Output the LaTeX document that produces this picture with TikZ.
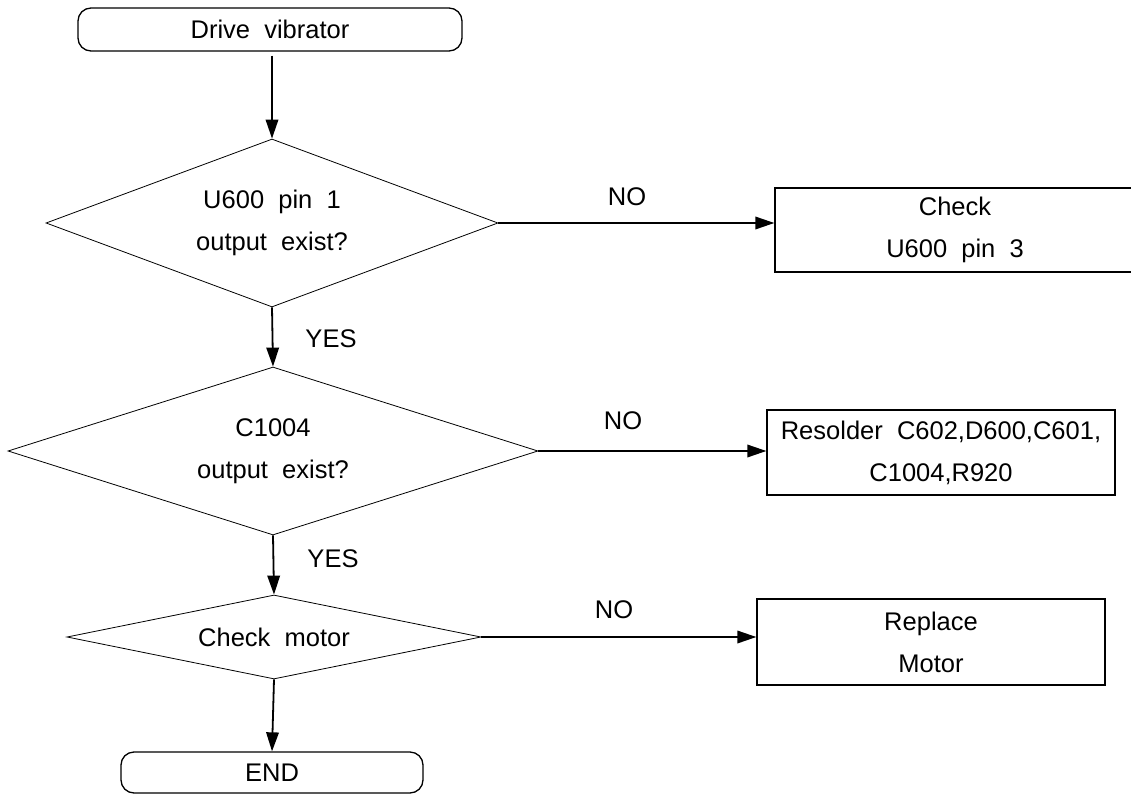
\documentclass[tikz,border=0pt]{standalone}
\usepackage{fontspec}
\setmainfont{Liberation Sans}
\usetikzlibrary{shapes.geometric,arrows.meta}
\begin{document}
\begin{tikzpicture}[x=1pt,y=-1pt,
  every node/.style={font=\fontsize{25.5}{42}\selectfont, inner sep=0pt, text=black},
  term/.style={draw, line width=1.3pt, rounded corners=13pt},
  dec/.style={draw, diamond, line width=0.8pt, align=center},
  proc/.style={draw, rectangle, line width=1.3pt, align=center},
  flow/.style={line width=1.8pt, -{Triangle[length=19pt,width=12.5pt]}}]
\useasboundingbox (0,0) rectangle (1131,794);
% nodes
\node[term, minimum width=384pt, minimum height=43pt] (start) at (270,29.5) {Drive~~vibrator};
\node[dec, minimum width=452pt, minimum height=168pt, shape aspect=2.69] (d1) at (272,223) {U600~~pin~~1\\output~~exist?};
\node[proc, minimum width=360pt, minimum height=84pt] (b1) at (955,230) {Check\\U600~~pin~~3};
\node[dec, minimum width=530pt, minimum height=168pt, shape aspect=3.15] (d2) at (273,451) {C1004\\output~~exist?};
\node[proc, minimum width=348pt, minimum height=85pt] (b2) at (941,452.5) {Resolder~~C602,D600,C601,\\C1004,R920};
\node[dec, minimum width=414pt, minimum height=84pt, shape aspect=4.93] (d3) at (274,637) {Check~~motor};
\node[proc, minimum width=348pt, minimum height=86pt] (b3) at (931,642) {Replace\\Motor};
\node[term, minimum width=302pt, minimum height=41pt] (end) at (272,772.5) {END};
% labels
\node (no1) at (627,197) {NO};
\node (yes1) at (331,339) {YES};
\node (no2) at (623,421) {NO};
\node (yes2) at (333,559) {YES};
\node (no3) at (614,610) {NO};
% connectors
\draw[flow] ([yshift=-4pt]start.south -| d1.north) -- (d1.north);
\draw[flow] (d1.east) -- (d1.east -| b1.west);
\draw[flow] (d1.south) -- (d2.north);
\draw[flow] (d2.east) -- (d2.east -| b2.west);
\draw[flow] (d2.south) -- (d3.north);
\draw[flow] (d3.east) -- (d3.east -| b3.west);
\draw[flow] (d3.south) -- (end.north);
\end{tikzpicture}
\end{document}
